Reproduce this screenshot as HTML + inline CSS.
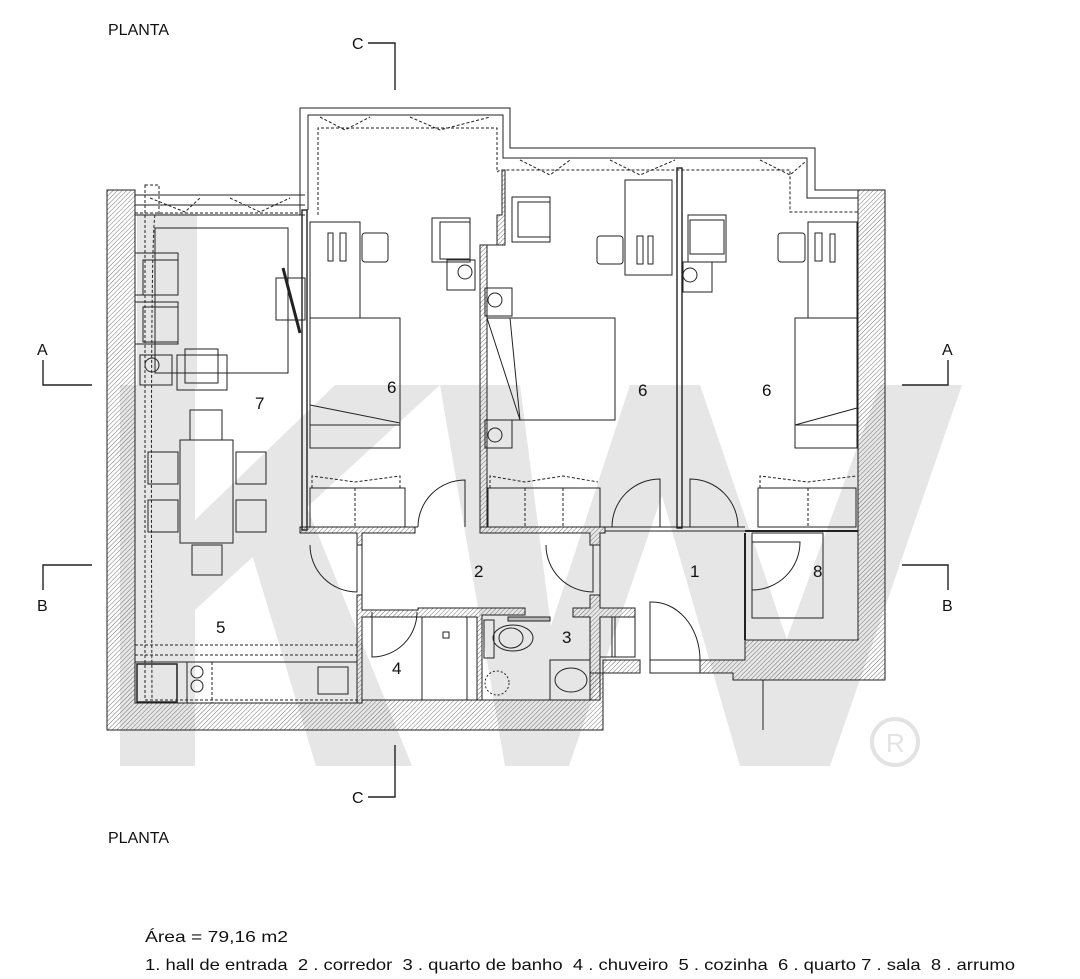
<!DOCTYPE html>
<html><head><meta charset="utf-8"><style>
html,body{margin:0;padding:0;background:#fff;}
svg{display:block;}
text{font-family:"Liberation Sans",Arial,sans-serif;fill:#111;}
</style></head><body>
<svg width="1080" height="979" viewBox="0 0 1080 979" xmlns="http://www.w3.org/2000/svg">
<defs>
<pattern id="h" width="3.2" height="3.2" patternUnits="userSpaceOnUse" patternTransform="rotate(45)">
<line x1="0" y1="0" x2="0" y2="3.2" stroke="#555" stroke-width="0.8"/>
</pattern>
</defs>
<!-- watermark -->
<g fill="#e6e6e6">
<rect x="120" y="385" width="75" height="381"/>
<rect x="137" y="213" width="60" height="175"/>
<polygon points="195,610 195,520 335,385 440,385"/>
<polygon points="250,548 300,490 412,766 316,766"/>
<polygon points="440,385 520,385 569,766 505,766"/>
<polygon points="505,766 569,766 700,385 630,385"/>
<polygon points="630,385 700,385 830,766 740,766"/>
<polygon points="740,766 830,766 962,385 880,385"/>
</g>
<circle cx="895" cy="742" r="23" fill="none" stroke="#e3e3e3" stroke-width="4"/>
<text x="886" y="752" font-size="26" style="fill:#e3e3e3">R</text>

<!-- hatched walls -->
<g fill="url(#h)" stroke="#222" stroke-width="1">
<polygon points="107,190 135,190 135,703 362,703 362,700 590,700 590,673 603,673 603,730 107,730" />
<polygon points="603,660 640,660 640,673 603,673"/>
<polygon points="700,660 745,660 745,640 858,640 858,190 885,190 885,680 733,680 733,673 700,673"/>
<polygon points="300,527 415,527 415,533 362,533 362,545 357,545 357,533 300,533"/>
<polygon points="480,527 605,527 605,533 600,533 600,545 590,545 590,533 480,533"/>
<polygon points="357,595 362,595 362,610 418,610 418,608 525,608 525,615 482,615 482,700 477,700 477,617 362,617 362,703 357,703"/>
<polygon points="573,608 590,608 590,595 600,595 600,608 635,608 635,617 600,617 600,700 590,700 590,617 573,617"/>
<polygon points="480,245 497,245 497,215 502,215 502,170 505,170 505,245 487,245 487,527 480,527"/>
</g>
<line x1="603" y1="673" x2="603" y2="730" stroke="#222"/>
<line x1="763" y1="680" x2="763" y2="730" stroke="#222"/>

<g fill="none" stroke="#222" stroke-width="1">
<rect x="302" y="210" width="5" height="320" stroke-width="1.4"/>
<rect x="677" y="168" width="5" height="360" stroke-width="1.4"/>
<line x1="405" y1="527" x2="418" y2="527"/>
<line x1="605" y1="527" x2="745" y2="527"/><line x1="605" y1="531" x2="745" y2="531"/>
<line x1="745" y1="531" x2="858" y2="531" stroke-width="2"/>
<line x1="745" y1="533" x2="745" y2="640" stroke-width="2"/>
<rect x="752" y="533" width="71" height="85"/>
<line x1="600" y1="545" x2="600" y2="595"/>
<line x1="362" y1="545" x2="362" y2="595"/>
<path d="M300,215 L300,108 L510,108 L510,148 L815,148 L815,190 L858,190"/>
<path d="M308,210 L308,115 L503,115 L503,158 L807,158 L807,198 L858,198"/>
<path d="M135,195 L305,195 M135,205 L305,205 M135,215 L305,215"/>
<g stroke-dasharray="3,2">
<path d="M318,215 L318,128 L497,128 L497,172 L500,170 L790,170 L790,212 L858,212"/>
<path d="M135,213 L300,213"/>
<path d="M320,117 L345,130 L370,117 M410,117 L440,130 L490,117"/>
<path d="M520,160 L550,175 L570,160 M610,160 L640,175 L675,160 M760,160 L790,175 L805,162"/>
<path d="M150,198 L185,212 L200,198 M230,198 L260,212 L290,198"/>
<rect x="145" y="185" width="14" height="30"/>
<path d="M145,215 L145,700 L360,700 M155,215 Q150,240 152,700"/>
<path d="M135,645 L357,645 M135,655 L357,655"/>
</g>
<rect x="135" y="662" width="222" height="41"/>
<rect x="137" y="664" width="40" height="38" stroke-width="1.5"/>
<line x1="187" y1="662" x2="187" y2="703"/><line x1="212" y1="662" x2="212" y2="703" stroke-dasharray="3,2"/>
<circle cx="197" cy="672" r="6"/><circle cx="197" cy="686" r="6"/>
<rect x="318" y="667" width="30" height="27"/>
<rect x="155" y="228" width="133" height="145"/>
<rect x="135" y="253" width="43" height="42"/><rect x="143" y="260" width="35" height="35"/>
<rect x="135" y="302" width="43" height="42"/><rect x="143" y="307" width="35" height="35"/>
<rect x="140" y="355" width="32" height="30"/><circle cx="152" cy="365" r="7"/>
<rect x="177" y="355" width="50" height="35"/><rect x="185" y="349" width="33" height="34"/>
<rect x="276" y="278" width="29" height="42"/>
<line x1="283" y1="268" x2="300" y2="333" stroke-width="3"/>
<rect x="180" y="440" width="53" height="103"/>
<rect x="190" y="410" width="32" height="30"/><rect x="192" y="545" width="30" height="30"/>
<rect x="148" y="452" width="30" height="32"/><rect x="148" y="500" width="30" height="32"/>
<rect x="236" y="452" width="30" height="32"/><rect x="236" y="500" width="30" height="32"/>
<rect x="310" y="222" width="50" height="96"/>
<rect x="328" y="233" width="5" height="28"/><rect x="340" y="233" width="6" height="28"/>
<rect x="362" y="233" width="26" height="29" rx="3"/>
<rect x="310" y="318" width="90" height="130"/><line x1="310" y1="425" x2="400" y2="425"/><line x1="310" y1="405" x2="400" y2="423"/>
<rect x="432" y="218" width="38" height="44"/><rect x="440" y="222" width="30" height="37"/>
<rect x="447" y="260" width="28" height="30"/><circle cx="465" cy="272" r="7"/>
<rect x="310" y="488" width="95" height="39"/><line x1="355" y1="488" x2="355" y2="527" stroke-dasharray="3,2"/>
<path d="M312,488 L312,476 L355,482 L400,476 L400,488" stroke-dasharray="3,2"/>
<rect x="512" y="197" width="38" height="45"/><rect x="518" y="202" width="32" height="35"/>
<rect x="485" y="288" width="27" height="28"/><circle cx="495" cy="300" r="7"/>
<rect x="485" y="420" width="27" height="28"/><circle cx="495" cy="435" r="7"/>
<rect x="487" y="318" width="128" height="102"/><line x1="510" y1="318" x2="520" y2="420"/><line x1="487" y1="318" x2="520" y2="420"/>
<rect x="625" y="180" width="47" height="95"/>
<rect x="637" y="236" width="6" height="28"/><rect x="648" y="236" width="5" height="28"/>
<rect x="597" y="236" width="26" height="28" rx="3"/>
<rect x="488" y="488" width="112" height="39"/><line x1="525" y1="488" x2="525" y2="527" stroke-dasharray="3,2"/><line x1="563" y1="488" x2="563" y2="527" stroke-dasharray="3,2"/>
<path d="M490,488 L490,476 L525,482 L563,476 L598,482" stroke-dasharray="3,2"/>
<rect x="688" y="215" width="38" height="47"/><rect x="690" y="220" width="34" height="34"/>
<rect x="683" y="262" width="29" height="30"/><circle cx="690" cy="275" r="7"/>
<rect x="808" y="222" width="49" height="96"/>
<rect x="815" y="233" width="7" height="28"/><rect x="830" y="234" width="5" height="28"/>
<rect x="778" y="233" width="27" height="29" rx="3"/>
<rect x="795" y="318" width="62" height="130"/><line x1="795" y1="425" x2="857" y2="425"/><line x1="795" y1="425" x2="857" y2="408"/>
<rect x="758" y="488" width="98" height="39"/><line x1="808" y1="488" x2="808" y2="527" stroke-dasharray="3,2"/>
<path d="M760,488 L760,476 L808,482 L856,476" stroke-dasharray="3,2"/>
<rect x="422" y="617" width="45" height="83"/><rect x="443" y="632" width="6" height="6"/>
<line x1="422" y1="650" x2="422" y2="700"/>
<rect x="508" y="617" width="42" height="4" fill="#bbb"/>
<rect x="484" y="620" width="10" height="38"/>
<ellipse cx="513" cy="638" rx="20" ry="13"/><ellipse cx="511" cy="638" rx="12" ry="10"/>
<circle cx="497" cy="683" r="12" stroke-dasharray="2,2"/>
<rect x="550" y="660" width="40" height="40"/><ellipse cx="571" cy="680" rx="16" ry="12"/>
<rect x="600" y="617" width="15" height="40"/><rect x="612" y="617" width="23" height="40"/>
<path d="M418,527 A47,47 0 0 1 465,480 L465,527"/>
<path d="M612,527 A48,48 0 0 1 660,479 L660,527"/>
<path d="M690,527 L690,479 A48,48 0 0 1 738,527"/>
<path d="M310,545 A47,47 0 0 0 357,592 L357,545"/>
<path d="M546,545 A47,47 0 0 0 593,592 L593,545"/>
<path d="M417,612 A45,45 0 0 1 372,657 L372,612"/>
<path d="M650,660 L650,602 A48,58 0 0 1 700,660"/>
<rect x="650" y="660" width="50" height="13"/>
<path d="M752,590 L752,542 L800,542 A48,48 0 0 1 752,590"/>
<path d="M43,360 L43,385 L92,385 M948,360 L948,385 L902,385 M43,590 L43,565 L92,565 M948,590 L948,565 L902,565 M368,43 L395,43 L395,90 M395,745 L395,797 L368,797" stroke-width="1.4"/>
</g>
<g font-size="17">
<text x="387" y="393">6</text><text x="638" y="396">6</text><text x="762" y="396">6</text>
<text x="255" y="409">7</text><text x="216" y="633">5</text><text x="474" y="577">2</text>
<text x="690" y="577">1</text><text x="813" y="577">8</text><text x="392" y="674">4</text><text x="562" y="643">3</text>
</g>
<g font-size="16">
<text x="37" y="355">A</text><text x="942" y="355">A</text>
<text x="37" y="611">B</text><text x="942" y="611">B</text>
<text x="352" y="49">C</text><text x="352" y="803">C</text>
<text x="108" y="35">PLANTA</text><text x="108" y="843">PLANTA</text>
<text x="145" y="942" textLength="143" lengthAdjust="spacingAndGlyphs">Área = 79,16 m2</text>
<text x="145" y="970" textLength="870" lengthAdjust="spacingAndGlyphs" xml:space="preserve">1. hall de entrada  2 . corredor  3 . quarto de banho  4 . chuveiro  5 . cozinha  6 . quarto 7 . sala  8 . arrumo</text>
</g>
</svg>
</body></html>
